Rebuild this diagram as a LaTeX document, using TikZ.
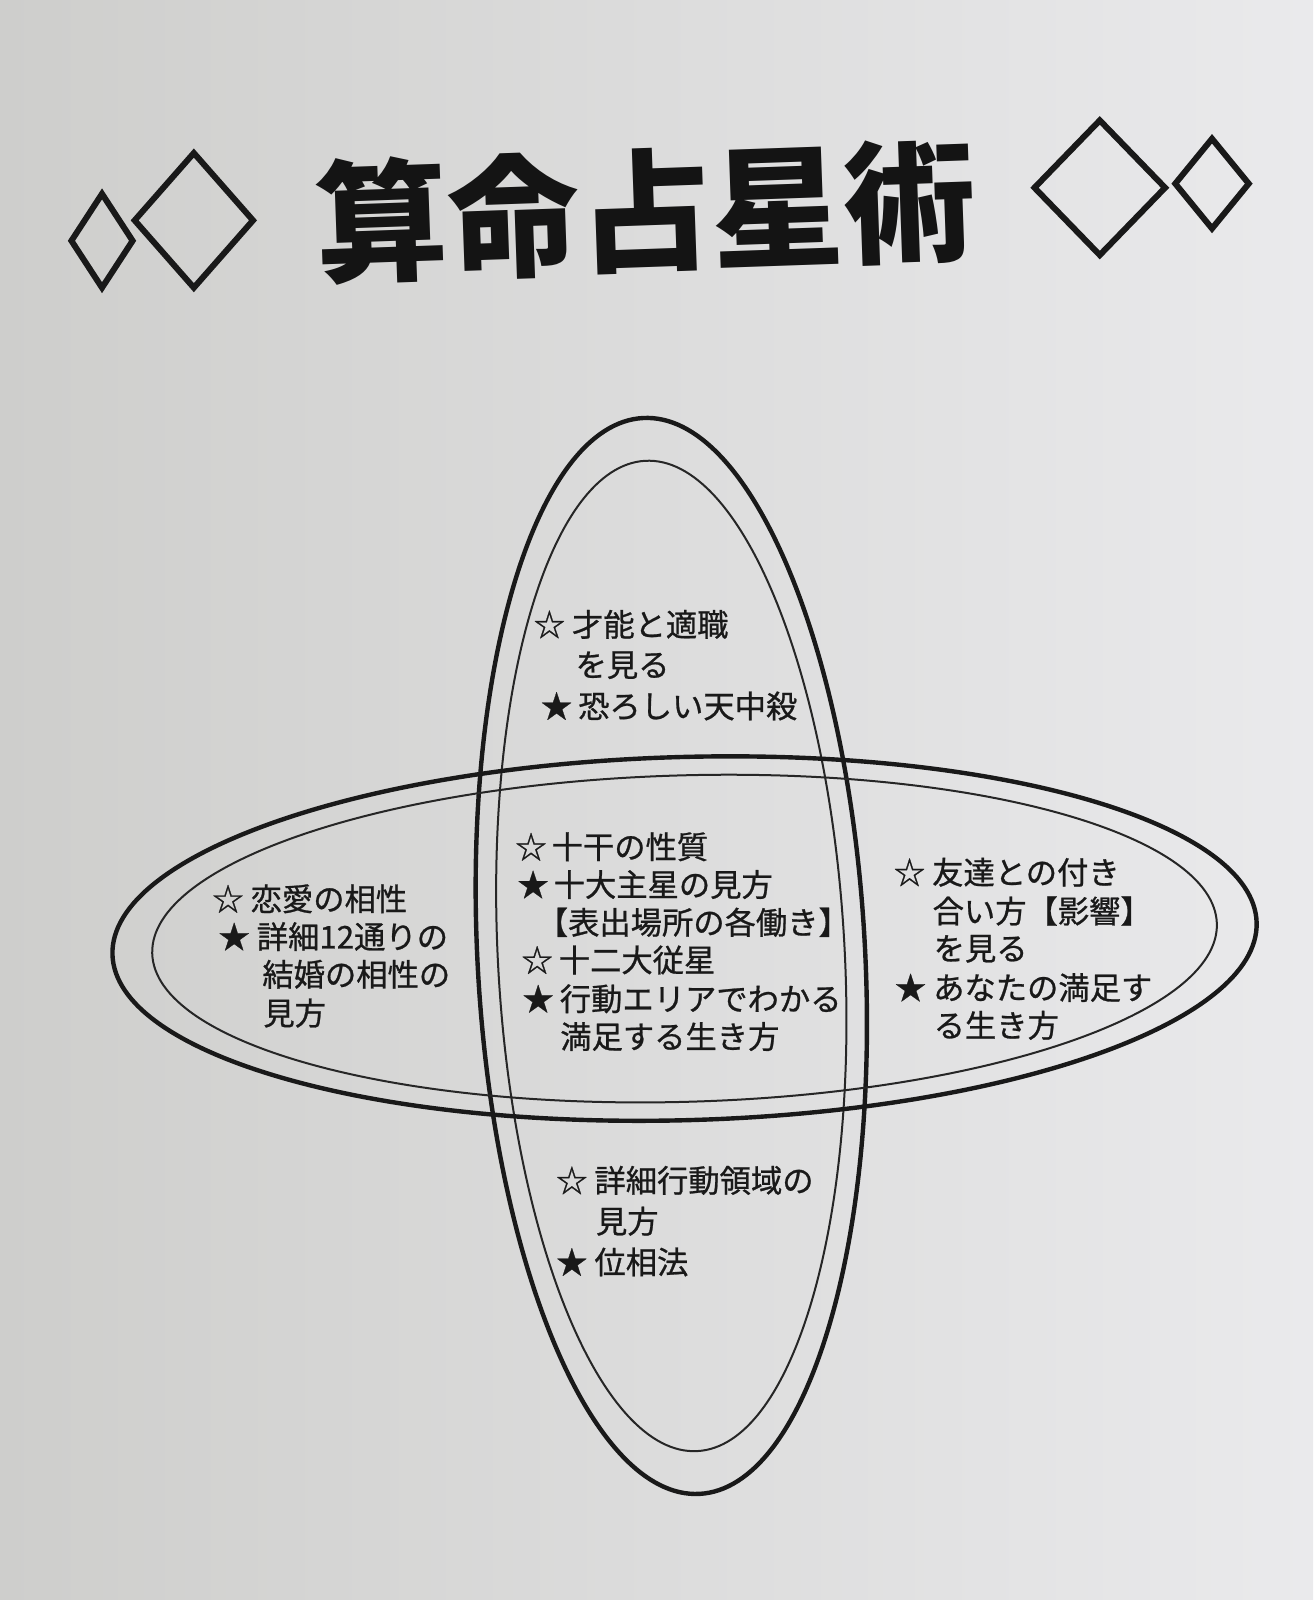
\documentclass[tikz,border=0pt]{standalone}
\usepackage{fontspec}
\usetikzlibrary{calc}
\newfontfamily\jp[FakeBold=0.8]{Noto Sans CJK JP}
\newfontfamily\jpt{Noto Sans CJK JP}
\begin{document}
\begin{tikzpicture}[x=1.0202pt,y=-1.0202pt,
  txt/.style={anchor=west,inner sep=0pt,font=\jp\fontsize{31.3}{31.3}\selectfont,text=black!90},
  ttl/.style={inner sep=0pt,font=\jpt\bfseries\fontsize{132}{132}\selectfont,text=black!92},
  dia/.style={draw=black!90,line width=6pt,line join=miter},
  outer/.style={draw=black!90,line width=4.4pt},
  inner/.style={draw=black!85,line width=2pt}]
\definecolor{bgL}{RGB}{206,206,204}
\definecolor{bgR}{RGB}{234,234,236}
\shade[left color=bgL,right color=bgR] (0,0) rectangle (1287,1568.3);
\useasboundingbox (0,0) rectangle (1287,1568.3);
% title
\node[ttl,rotate=2] (title) at (633,207) {算命占星術};
% diamonds
\coordinate (d1) at (100,236);
\coordinate (d2) at (190,216);
\coordinate (d3) at (1078,184);
\coordinate (d4) at (1188,180);
\draw[dia] ($(d1)+(-30,0)$) -- ($(d1)+(0,-46)$) -- ($(d1)+(30,0)$) -- ($(d1)+(0,46)$) -- cycle;
\draw[dia] ($(d2)+(-58,0)$) -- ($(d2)+(0,-66)$) -- ($(d2)+(58,0)$) -- ($(d2)+(0,66)$) -- cycle;
\draw[dia] ($(d3)+(-64,0)$) -- ($(d3)+(0,-66)$) -- ($(d3)+(64,0)$) -- ($(d3)+(0,66)$) -- cycle;
\draw[dia] ($(d4)+(-36,0)$) -- ($(d4)+(0,-44)$) -- ($(d4)+(36,0)$) -- ($(d4)+(0,44)$) -- cycle;
% ellipses
\coordinate (vc) at (658,937);
\coordinate (hc) at (671,920);
\draw[outer,rotate around={3:(vc)}] (vc) ellipse [x radius=190,y radius=528];
\draw[inner,rotate around={3:(vc)}] (vc) ellipse [x radius=170,y radius=486];
\draw[outer,rotate around={1.6:(hc)}] (hc) ellipse [x radius=561,y radius=178];
\draw[inner,rotate around={1.6:(hc)}] (hc) ellipse [x radius=522,y radius=160];
% top block
\node[txt] (a1) at (523,612) {☆\hspace{7pt}才能と適職};
\node[txt] (a2) at (564,652) {を見る};
\node[txt] (a3) at (530,692) {★\hspace{6pt}恐ろしい天中殺};
% centre block
\node[txt] (c1) at (505,830) {☆\hspace{5pt}十干の性質};
\node[txt] (c2) at (507,867) {★\hspace{5pt}十大主星の見方};
\node[txt] (c3) at (526,904) {【表出場所の各働き】};
\node[txt] (c4) at (511,941) {☆\hspace{6pt}十二大従星};
\node[txt] (c5) at (512,979) {★\hspace{6pt}行動エリアでわかる};
\node[txt] (c6) at (549,1016) {満足する生き方};
% left block
\node[txt] (l1) at (208,881) {☆\hspace{7pt}恋愛の相性};
\node[txt] (l2) at (214,918) {★\hspace{7pt}詳細12通りの};
\node[txt] (l3) at (257,955) {結婚の相性の};
\node[txt] (l4) at (258,993) {見方};
% right block
\node[txt] (r1) at (876,855) {☆\hspace{7pt}友達との付き};
\node[txt] (r2) at (914,893) {合い方【影響】};
\node[txt] (r3) at (915,930) {を見る};
\node[txt] (r4) at (877,968) {★\hspace{7pt}あなたの満足す};
\node[txt] (r5) at (915,1005) {る生き方};
% bottom block
\node[txt] (b1) at (545,1157) {☆\hspace{7pt}詳細行動領域の};
\node[txt] (b2) at (584,1197) {見方};
\node[txt] (b3) at (545,1237) {★\hspace{7pt}位相法};
\end{tikzpicture}
\end{document}
